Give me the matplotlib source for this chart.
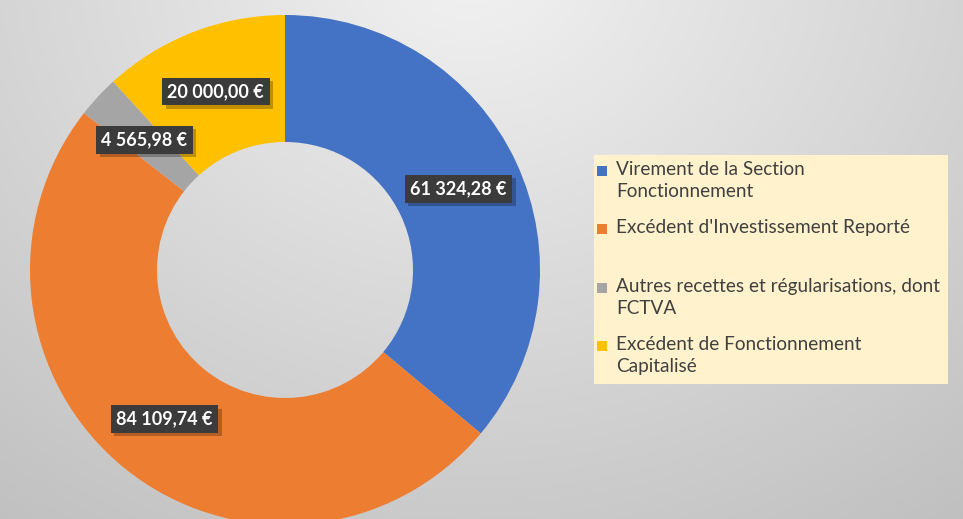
import numpy as np
import matplotlib
matplotlib.use("Agg")
import matplotlib.pyplot as plt
from matplotlib.patches import Rectangle
import matplotlib.patheffects as pe

categories = ["Virement de la Section\nFonctionnement",
              "Excédent d'Investissement Reporté\n",
              "Autres recettes et régularisations, dont\nFCTVA",
              "Excédent de Fonctionnement\nCapitalisé"]
values = [61324.28, 84109.74, 4565.98, 20000.00]
value_labels = ["61 324,28 €", "84 109,74 €", "4 565,98 €", "20 000,00 €"]
colors = ["#4472C4", "#ED7D31", "#A5A5A5", "#FFC000"]

W, H = 963, 519
fig = plt.figure(figsize=(W / 100, H / 100), dpi=100)

# background gradient
bg = fig.add_axes([0, 0, 1, 1])
yy, xx = np.mgrid[0:H, 0:W]
d = np.sqrt(((xx - 470) / 700.0) ** 2 + ((yy + 40) / 600.0) ** 2)
lum = 0.95 - 0.17 * np.clip(d, 0, 1.3)
img = np.dstack([lum, lum, lum])
bg.imshow(img, extent=[0, W, 0, H], origin="upper", aspect="auto")
bg.axis("off")

ax = fig.add_axes([0, 0, 1, 1])
ax.set_xlim(0, W)
ax.set_ylim(0, H)
ax.set_aspect("equal")
ax.axis("off")

cx, cy, R = 285, H - 270, 255
width = 127
wedges, _ = ax.pie(values, colors=colors, startangle=90, counterclock=False,
                   center=(cx, cy), radius=R, wedgeprops=dict(width=width, linewidth=0))
ax.set_xlim(0, W)
ax.set_ylim(0, H)

rmid = R - width / 2
for w, lab in zip(wedges, value_labels):
    ang = np.deg2rad((w.theta1 + w.theta2) / 2)
    x = cx + rmid * np.cos(ang)
    y = cy + rmid * np.sin(ang)
    t = ax.text(x, y, lab, ha="center", va="center", fontsize=13,
                fontweight="bold", family="Lato", color="white",
                bbox=dict(boxstyle="square,pad=0.3", fc="#3b3b3b", ec="none"))
    t.get_bbox_patch().set_path_effects(
        [pe.SimplePatchShadow(offset=(2.5, -2.5), shadow_rgbFace="black", alpha=0.25),
         pe.Normal()])

# legend box
lx0, ly0, lx1, ly1 = 594, 155, 948, 384
ax.add_patch(Rectangle((lx0, H - ly1), lx1 - lx0, ly1 - ly0, fc="#FFF2CC", ec="none"))
for i, (cat, col) in enumerate(zip(categories, colors)):
    ytop = 161 + 58.3 * i
    ax.add_patch(Rectangle((597, H - (ytop + 15)), 10, 10, fc=col, ec="none"))
    ax.text(616, H - ytop, cat, ha="left", va="top", fontsize=13.7,
            family="Lato", color="#404040", linespacing=1.35)

fig.savefig("out.png", dpi=100)
